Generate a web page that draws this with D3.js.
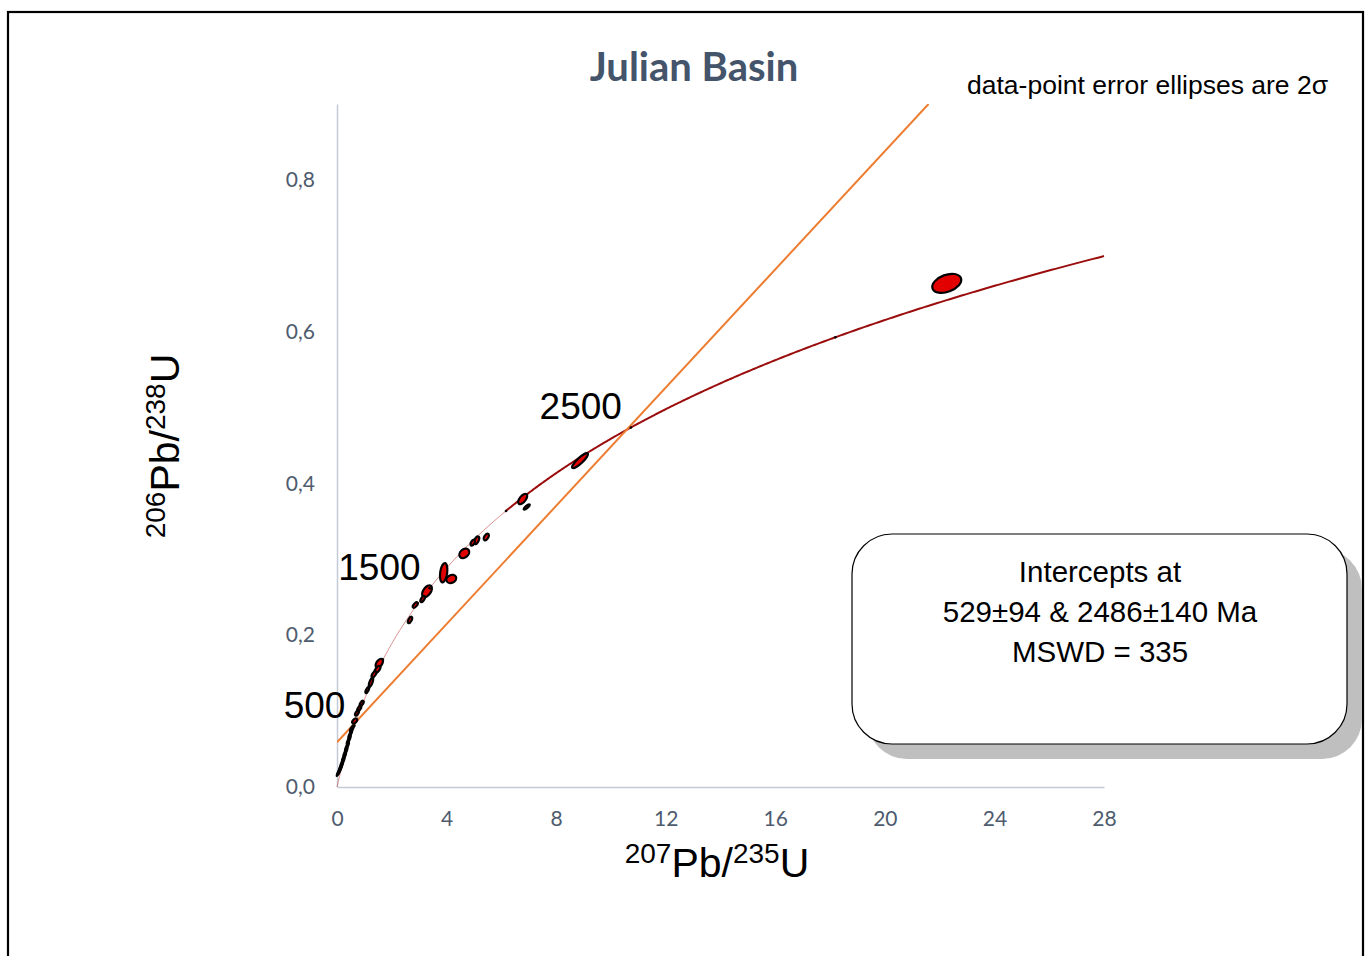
<!DOCTYPE html>
<html>
<head>
<meta charset="utf-8">
<script src="https://cdn.jsdelivr.net/npm/d3@7"></script>
<style>
  html, body { margin: 0; padding: 0; background: #fff; }
  svg { display: block; }
</style>
</head>
<body>
<svg id="chart" width="1371" height="956"></svg>
<script>
// U-Pb decay constants (per year)
const lambda238 = 1.55125e-10;
const lambda235 = 9.8485e-10;

// Axis ticks
const xTicks = [0, 4, 8, 12, 16, 20, 24, 28];
const yTicks = [0.0, 0.2, 0.4, 0.6, 0.8];

// Concordia age markers (Ma) and the ones that carry a label
const ageMarks = [500, 1000, 1500, 2000, 2500, 3000];
const ageLabels = [500, 1500, 2500];

// Discordia intercept ages (Ma)
const lowerIntercept = 529;
const upperIntercept = 2486;

// Analyses: 207Pb/235U, 206Pb/238U, 2-sigma half-widths and error correlation
const ratio207_235 = [22.26, 8.871, 6.779, 6.925, 5.450, 5.100, 4.954, 4.647, 3.895, 4.173, 3.286, 3.129, 2.858, 2.665,
  1.544, 1.478, 1.351, 1.241, 1.106, 0.902, 0.814, 0.730, 0.646, 0.548, 0.486, 0.427, 0.365, 0.310, 0.256, 0.201, 0.146, 0.099, 0.055];
const ratio206_238 = [0.6637, 0.4300, 0.3795, 0.3690, 0.3294, 0.3251, 0.3219, 0.3079, 0.2824, 0.2741, 0.2579, 0.2477, 0.2398, 0.2201,
  0.1630, 0.1548, 0.1485, 0.1380, 0.1278, 0.1103, 0.1037, 0.0975, 0.0870, 0.0773, 0.0698, 0.0619, 0.0534, 0.0461, 0.0395, 0.0329, 0.0270, 0.0224, 0.0191];
const err207_235 = [0.529, 0.290, 0.165, 0.110, 0.095, 0.090, 0.080, 0.180, 0.135, 0.180, 0.180, 0.082, 0.092, 0.082,
  0.135, 0.105, 0.088, 0.082, 0.072, 0.072, 0.072, 0.070, 0.090, 0.075, 0.075, 0.075, 0.075, 0.075, 0.075, 0.075, 0.075, 0.072, 0.066];
const err206_238 = [0.0125, 0.0098, 0.0068, 0.0034, 0.0042, 0.0050, 0.0038, 0.0062, 0.0127, 0.0055, 0.0078, 0.0040, 0.0035, 0.0042,
  0.0060, 0.0046, 0.0040, 0.0060, 0.0040, 0.0034, 0.0034, 0.0036, 0.0034, 0.0042, 0.0055, 0.0055, 0.0055, 0.0055, 0.0055, 0.0055, 0.0055, 0.0052, 0.0046];
const errCorr = [0.37, 0.87, 0.6, 0.8, 0.5, 0.5, 0.5, 0.3, 0.3, 0.2, 0.5, 0.6, 0.6, 0.6,
  0.5, 0.6, 0.6, 0.7, 0.7, 0.6, 0.6, 0.6, 0.5, 0.8, 0.9, 0.9, 0.9, 0.9, 0.9, 0.9, 0.9, 0.9, 0.9];

const svg = d3.select("#chart");

const plot = { left: 337, right: 1104, top: 104, bottom: 787 };
const x = d3.scaleLinear().domain([0, 28]).range([plot.left, plot.right]);
const y = d3.scaleLinear().domain([0, 0.9]).range([plot.bottom, plot.top]);

const conc = t => ({ x: Math.exp(lambda235 * t * 1e6) - 1, y: Math.exp(lambda238 * t * 1e6) - 1 });

// outer frame
svg.append("rect").attr("x", 8).attr("y", 12).attr("width", 1355).attr("height", 1000)
  .attr("fill", "none").attr("stroke", "#000").attr("stroke-width", 2.2);

// title and note
svg.append("text").attr("x", 694).attr("y", 81).attr("text-anchor", "middle")
  .attr("font-family", "Lato, 'Open Sans', sans-serif").attr("font-weight", "bold")
  .attr("font-size", 40).attr("fill", "#44546a").text("Julian Basin");
svg.append("text").attr("x", 967).attr("y", 94)
  .attr("font-family", "'Liberation Sans', Arial, sans-serif").attr("font-size", 26.5)
  .attr("fill", "#000").text("data-point error ellipses are 2\u03c3");

// axes
const axisColor = "#c3cad8";
const tickFont = "Lato, 'Open Sans', sans-serif";
const tickColor = "#4e5b6e";
const xAxis = svg.append("g").attr("transform", `translate(0,${plot.bottom})`)
  .call(d3.axisBottom(x).tickValues(xTicks).tickSize(0).tickPadding(24).tickFormat(d3.format("d")));
const yAxis = svg.append("g").attr("transform", `translate(${plot.left},0)`)
  .call(d3.axisLeft(y).tickValues(yTicks).tickSize(0).tickPadding(22).tickFormat(d => d3.format(".1f")(d).replace(".", ",")));
[xAxis, yAxis].forEach(a => {
  a.select(".domain").attr("stroke", axisColor).attr("stroke-width", 1.5);
  a.selectAll("text").attr("font-family", tickFont).attr("font-size", 21).attr("fill", tickColor);
});

// axis titles
const xt = svg.append("text").attr("x", 717).attr("y", 877).attr("text-anchor", "middle")
  .attr("font-family", "'Liberation Sans', Arial, sans-serif").attr("font-size", 41).attr("fill", "#000");
xt.append("tspan").attr("font-size", 28).attr("dy", -14).text("207");
xt.append("tspan").attr("dy", 14).text("Pb/");
xt.append("tspan").attr("font-size", 28).attr("dy", -14).text("235");
xt.append("tspan").attr("dy", 14).text("U");

const yt = svg.append("text").attr("transform", "translate(179,446) rotate(-90)").attr("text-anchor", "middle")
  .attr("font-family", "'Liberation Sans', Arial, sans-serif").attr("font-size", 41).attr("fill", "#000");
yt.append("tspan").attr("font-size", 28).attr("dy", -14).text("206");
yt.append("tspan").attr("dy", 14).text("Pb/");
yt.append("tspan").attr("font-size", 28).attr("dy", -14).text("238");
yt.append("tspan").attr("dy", 14).text("U");

// clip region for lines
svg.append("clipPath").attr("id", "plotClip").append("rect")
  .attr("x", plot.left).attr("y", plot.top).attr("width", plot.right - plot.left).attr("height", plot.bottom - plot.top);

// concordia curve
const tMax = Math.log(1 + 28) / lambda235 / 1e6;
const lineGen = d3.line().x(d => x(d.x)).y(d => y(d.y));
const lowerPart = d3.range(0, 2000 + 1, 5).map(conc);
const upperPart = d3.range(2000, tMax, 5).concat([tMax]).map(conc);
svg.append("path").attr("d", lineGen(lowerPart)).attr("fill", "none")
  .attr("stroke", "#c0504d").attr("stroke-width", 0.8).attr("stroke-opacity", 0.85);
svg.append("path").attr("d", lineGen(upperPart)).attr("fill", "none")
  .attr("stroke", "#9b0d0d").attr("stroke-width", 2);

// discordia through the two intercepts
const p1 = conc(lowerIntercept), p2 = conc(upperIntercept);
const slope = (p2.y - p1.y) / (p2.x - p1.x);
const y0 = p1.y - slope * p1.x;
const xEnd = (0.9 - y0) / slope;
svg.append("line").attr("clip-path", "url(#plotClip)")
  .attr("x1", x(0)).attr("y1", y(y0)).attr("x2", x(xEnd)).attr("y2", y(0.9))
  .attr("stroke", "#ed7d31").attr("stroke-width", 2);

// error ellipses from 2-sigma errors and correlation
const ellipses = ratio207_235.map((cx, i) => {
  const sx = err207_235[i] * (x(1) - x(0));
  const sy = err206_238[i] * (y(0) - y(1));
  const sxx = sx * sx, syy = sy * sy, sxy = -errCorr[i] * sx * sy;
  const tr = (sxx + syy) / 2;
  const d = Math.sqrt((sxx - syy) * (sxx - syy) / 4 + sxy * sxy);
  const angle = 0.5 * Math.atan2(2 * sxy, sxx - syy) * 180 / Math.PI;
  return { cx: x(cx), cy: y(ratio206_238[i]), rx: Math.sqrt(tr + d), ry: Math.sqrt(Math.max(tr - d, 0.01)), angle };
});
svg.append("g").selectAll("ellipse").data(ellipses).join("ellipse")
  .attr("transform", d => `translate(${d.cx},${d.cy}) rotate(${d.angle})`)
  .attr("rx", d => d.rx).attr("ry", d => d.ry)
  .attr("fill", "#e30000").attr("stroke", "#000").attr("stroke-width", 2.2);

// concordia age markers and labels
svg.append("g").selectAll("circle").data(ageMarks).join("circle")
  .attr("cx", t => x(conc(t).x)).attr("cy", t => y(conc(t).y)).attr("r", 1.3).attr("fill", "#000");
svg.append("g").selectAll("text").data(ageLabels).join("text")
  .attr("x", t => x(conc(t).x) - 9).attr("y", t => y(conc(t).y) - 8).attr("text-anchor", "end")
  .attr("font-family", "'Liberation Sans', Arial, sans-serif").attr("font-size", 37).attr("fill", "#000")
  .text(t => t);

// result box with shadow
const box = { x: 852, y: 534, w: 495, h: 210, r: 40 };
svg.append("rect").attr("x", box.x + 15).attr("y", box.y + 15).attr("width", box.w).attr("height", box.h)
  .attr("rx", box.r).attr("fill", "#bfbfbf");
svg.append("rect").attr("x", box.x).attr("y", box.y).attr("width", box.w).attr("height", box.h)
  .attr("rx", box.r).attr("fill", "#fff").attr("stroke", "#000").attr("stroke-width", 1.2);
const boxLines = ["Intercepts at", `${lowerIntercept}\u00b194 & ${upperIntercept}\u00b1140 Ma`, "MSWD = 335"];
svg.append("g").selectAll("text").data(boxLines).join("text")
  .attr("x", box.x + box.w / 2 + 0.5).attr("y", (d, i) => 582 + i * 40).attr("text-anchor", "middle")
  .attr("font-family", "'Liberation Sans', Arial, sans-serif").attr("font-size", 29.5).attr("fill", "#000")
  .text(d => d);
</script>
</body>
</html>
